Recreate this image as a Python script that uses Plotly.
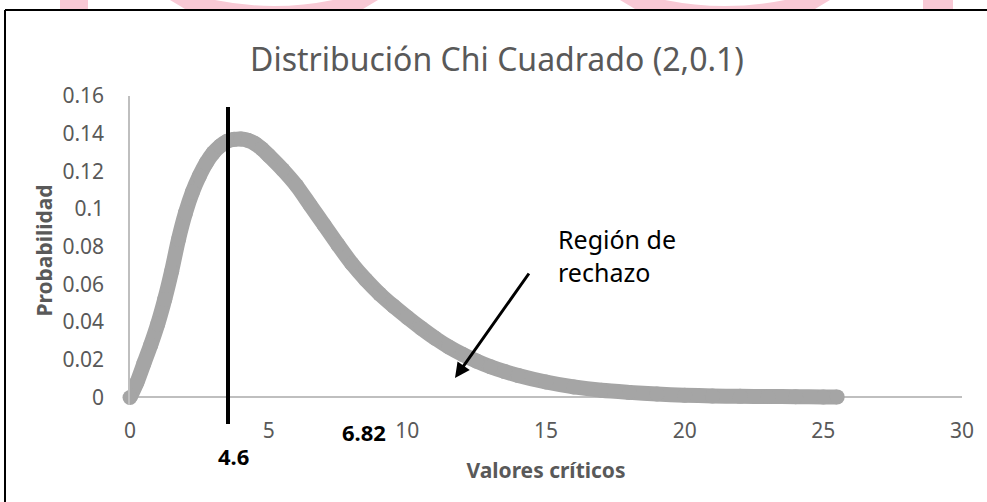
import plotly.graph_objects as go

# curve
valores = [0, 0.25, 0.5, 0.75, 1, 1.25, 1.5, 1.75, 2, 2.25, 2.5, 2.75, 3, 3.25, 3.5, 3.75,
           4, 4.25, 4.5, 4.75, 5, 5.5, 6, 6.5, 7, 7.5, 8, 8.5, 9, 9.5, 10, 10.5, 11, 11.5,
           12, 12.5, 13, 13.5, 14, 15, 16, 17, 18, 19, 20, 21, 22, 23, 24, 25, 25.5]
probabilidad = [0, 0.008, 0.018, 0.028, 0.039, 0.052, 0.067, 0.084, 0.098, 0.109, 0.1175,
                0.1245, 0.1298, 0.1335, 0.136, 0.137, 0.1372, 0.1365, 0.1348, 0.132, 0.1285,
                0.121, 0.1125, 0.102, 0.0915, 0.081, 0.071, 0.0625, 0.055, 0.0485, 0.0425,
                0.0368, 0.0315, 0.0268, 0.0228, 0.0193, 0.0163, 0.0138, 0.0117, 0.0082, 0.0056,
                0.0038, 0.0027, 0.0018, 0.0012, 0.0008, 0.0006, 0.0005, 0.0004, 0.0003, 0.0003]

x_ticks = [0, 5, 10, 15, 20, 25, 30]
y_ticks = [0, 0.02, 0.04, 0.06, 0.08, 0.1, 0.12, 0.14, 0.16]
y_ticktext = ["0", "0.02", "0.04", "0.06", "0.08", "0.1", "0.12", "0.14", "0.16"]

W, H = 987, 502
L, R, T, B = 130, 25, 96, 97
GRAY = "#A5A5A5"
TXT = "#595959"
FONT = "Noto Sans"


def px(x):
    return (x - L) / (W - L - R)


def py(y):
    return (H - B - y) / (H - T - B)


fig = go.Figure()
fig.add_trace(go.Scatter(
    x=valores, y=probabilidad, mode="lines+markers",
    line=dict(color=GRAY, width=15, shape="spline", smoothing=0.8),
    marker=dict(color=GRAY, size=15),
    cliponaxis=False, showlegend=False, hoverinfo="x+y"
))

shapes = [
    # critical value line
    dict(type="line", xref="paper", yref="paper", x0=px(228), x1=px(228),
         y0=py(424), y1=py(107), line=dict(color="black", width=4)),
    # frame
    dict(type="line", xref="paper", yref="paper", x0=px(5), x1=px(990),
         y0=py(10), y1=py(10), line=dict(color="black", width=2)),
    dict(type="line", xref="paper", yref="paper", x0=px(5), x1=px(5),
         y0=py(10), y1=py(505), line=dict(color="black", width=2)),
]

pink = "#F8C9D5"
for a, b in [(60, 88), (923, 953)]:
    shapes.append(dict(type="rect", xref="paper", yref="paper", x0=px(a), x1=px(b),
                       y0=py(9), y1=py(0), fillcolor=pink, line=dict(width=0), layer="above"))
for a, b in [(170, 378), (620, 830)]:
    m = (a + b) / 2
    path = (f"M {px(a)},{py(0)} L {px(a + 15)},{py(9)} L {px(b - 15)},{py(9)} L {px(b)},{py(0)} "
            f"L {px(b - 45)},{py(0)} Q {px(m)},{py(12)} {px(a + 45)},{py(0)} Z")
    shapes.append(dict(type="path", xref="paper", yref="paper", path=path,
                       fillcolor=pink, line=dict(width=0), layer="above"))

annotations = [
    dict(xref="paper", yref="paper", x=px(556), y=py(239), text="Región de", showarrow=False,
         xanchor="left", yanchor="middle", font=dict(family=FONT, size=25, color="black")),
    dict(xref="paper", yref="paper", x=px(556), y=py(272), text="rechazo", showarrow=False,
         xanchor="left", yanchor="middle", font=dict(family=FONT, size=25, color="black")),
    dict(xref="paper", yref="paper", x=px(455), y=py(378), text="", showarrow=True,
         ax=75, ay=-106, arrowhead=2, arrowsize=1, arrowwidth=3, arrowcolor="black", standoff=0),
    dict(xref="paper", yref="paper", x=px(233), y=py(456), text="<b>4.6</b>", showarrow=False,
         xanchor="center", yanchor="middle", font=dict(family=FONT, size=22, color="black")),
    dict(xref="paper", yref="paper", x=px(364), y=py(432), text="<b>6.82</b>", showarrow=False,
         xanchor="center", yanchor="middle", font=dict(family=FONT, size=22, color="black")),
]

fig.update_layout(
    width=W, height=H,
    margin=dict(l=L, r=R, t=T, b=B),
    paper_bgcolor="white", plot_bgcolor="white",
    font=dict(family=FONT, color=TXT),
    title=dict(text="Distribución Chi Cuadrado (2,0.1)", x=497 / W, xref="container",
               y=1 - 60 / H, yref="container", xanchor="center", yanchor="middle",
               font=dict(family=FONT, size=32, color=TXT)),
    xaxis=dict(range=[0, 30], tickvals=x_ticks, showgrid=False, zeroline=False,
               showline=False, ticks="", ticklabelstandoff=11,
               tickfont=dict(size=21, color=TXT),
               title=dict(text="<b>Valores críticos</b>", standoff=20,
                          font=dict(size=21, color=TXT))),
    yaxis=dict(range=[-0.004, 0.16], tickvals=y_ticks, ticktext=y_ticktext,
               showgrid=False, zeroline=True, zerolinecolor="#BFBFBF", zerolinewidth=1.5,
               showline=True, linecolor="#BFBFBF", linewidth=1.5, ticks="",
               ticklabelstandoff=20, tickfont=dict(size=21, color=TXT),
               title=dict(text="<b>Probabilidad</b>", standoff=4,
                          font=dict(size=21, color=TXT))),
    shapes=shapes,
    annotations=annotations,
)

fig.write_html("out.html", config={"displayModeBar": False},
               post_script="document.body.style.margin = '0';")
